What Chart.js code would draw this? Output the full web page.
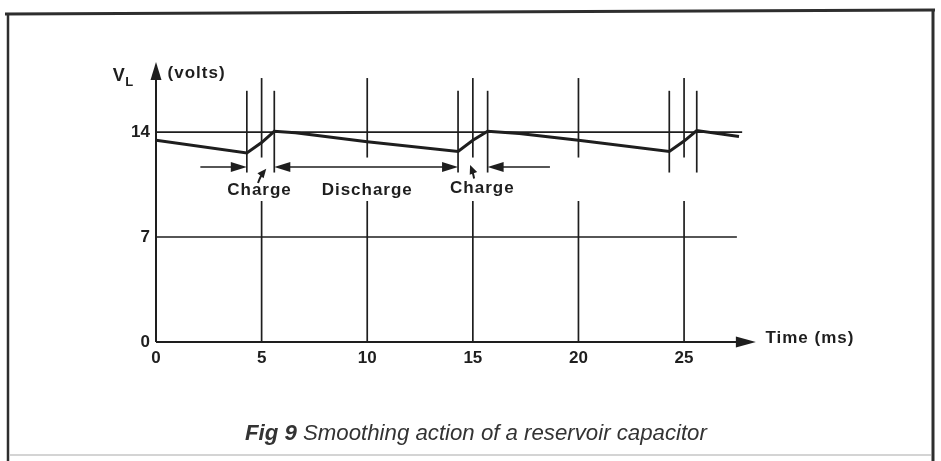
<!DOCTYPE html>
<html>
<head>
<meta charset="utf-8">
<script src="https://cdn.jsdelivr.net/npm/chart.js@4/dist/chart.umd.min.js"></script>
<style>
  html, body { margin: 0; background: #fff; }
  #wrap { width: 941px; height: 461px; }
</style>
</head>
<body>
<div id="wrap"><canvas id="chart" width="941" height="461"></canvas></div>
<script>
// waveform
const timeMs = [0, 4.3, 5.0, 5.6, 6.6, 10, 14.3, 15.0, 15.7, 17.2, 20, 24.3, 25.0, 25.6, 27.6];
const voltsL = [13.45, 12.6, 13.3, 14.05, 13.95, 13.35, 12.7, 13.45, 14.05, 13.9, 13.45, 12.7, 13.4, 14.1, 13.7];

const xTicks = [0, 5, 10, 15, 20, 25];
const yTicks = [0, 7, 14];
const gridLevels = [7, 14];
const gridEnds = [27.5, 27.75];
const markerTimes = [4.3, 5.6, 14.3, 15.7, 24.3, 25.6];

const ink = '#1e1e1e';
const face = '"Liberation Sans", Arial, sans-serif';

document.addEventListener('DOMContentLoaded', () => {
    const canvas = document.getElementById('chart');

    function arrowHead(ctx, x, y, dx, dy, len, half) {
        const n = Math.hypot(dx, dy);
        const ux = dx / n, uy = dy / n;
        ctx.beginPath();
        ctx.moveTo(x, y);
        ctx.lineTo(x - ux * len - uy * half, y - uy * len + ux * half);
        ctx.lineTo(x - ux * len + uy * half, y - uy * len - ux * half);
        ctx.closePath();
        ctx.fill();
    }

    function line(ctx, x1, y1, x2, y2) {
        ctx.beginPath();
        ctx.moveTo(x1, y1);
        ctx.lineTo(x2, y2);
        ctx.stroke();
    }

    const paper = {
        id: 'paper',
        beforeDraw(chart) {
            const ctx = chart.ctx;
            ctx.save();
            ctx.fillStyle = '#fff';
            ctx.fillRect(0, 0, chart.width, chart.height);
            // frame round the figure
            ctx.strokeStyle = '#2e2e2e';
            ctx.lineWidth = 3;
            line(ctx, 5, 14, 935, 10);
            ctx.lineWidth = 2.5;
            line(ctx, 8, 13, 8, 461);
            ctx.lineWidth = 3;
            line(ctx, 933, 10, 933, 461);
            ctx.strokeStyle = '#d4d4d4';
            ctx.lineWidth = 2;
            line(ctx, 10, 455, 931, 455);
            ctx.restore();
        },
        beforeDatasetsDraw(chart) {
            const ctx = chart.ctx;
            const xs = chart.scales.x, ys = chart.scales.y;
            const X = v => xs.getPixelForValue(v);
            const Y = v => ys.getPixelForValue(v);
            ctx.save();
            ctx.strokeStyle = ink;
            ctx.fillStyle = ink;
            ctx.lineWidth = 1.7;

            // horizontal levels
            gridLevels.forEach((v, i) => line(ctx, X(0), Y(v), X(gridEnds[i]), Y(v)));

            // vertical time lines with a gap for the labels
            xTicks.slice(1).forEach(t => {
                line(ctx, X(t), Y(17.6), X(t), Y(12.3));
                line(ctx, X(t), Y(9.4), X(t), Y(0));
            });

            // short markers at the charge start / end
            markerTimes.forEach(t => line(ctx, X(t), Y(16.75), X(t), Y(11.3)));

            // axes with arrows
            ctx.lineWidth = 2;
            line(ctx, X(0), Y(0), X(0), Y(18.0));
            arrowHead(ctx, X(0), Y(18.67), 0, -1, 18, 5.5);
            line(ctx, X(0), Y(0), X(27.8), Y(0));
            arrowHead(ctx, X(28.4), Y(0), 1, 0, 20, 5.5);

            // charge / discharge arrows
            ctx.lineWidth = 1.7;
            const ay = Y(11.67);
            line(ctx, X(2.1), ay, X(3.6), ay);
            arrowHead(ctx, X(4.3), ay, 1, 0, 16, 5);
            line(ctx, X(6.3), ay, X(13.6), ay);
            arrowHead(ctx, X(5.6), ay, -1, 0, 16, 5);
            arrowHead(ctx, X(14.3), ay, 1, 0, 16, 5);
            line(ctx, X(16.4), ay, X(18.65), ay);
            arrowHead(ctx, X(15.7), ay, -1, 0, 16, 5);

            // little pointers from the Charge labels
            ctx.lineWidth = 2;
            ctx.beginPath();
            ctx.moveTo(X(4.83), Y(10.6));
            ctx.quadraticCurveTo(X(4.95), Y(11.1), X(5.12), Y(11.35));
            ctx.stroke();
            arrowHead(ctx, X(5.22), Y(11.55), 1, -1.2, 9, 4);
            ctx.beginPath();
            ctx.moveTo(X(15.06), Y(10.9));
            ctx.quadraticCurveTo(X(15.0), Y(11.35), X(14.92), Y(11.55));
            ctx.stroke();
            arrowHead(ctx, X(14.87), Y(11.8), -0.4, -1, 9, 4);

            // texts
            ctx.textBaseline = 'middle';
            ctx.textAlign = 'center';
            ctx.font = `bold 17px ${face}`;
            ctx.letterSpacing = '1px';
            ctx.fillText('Charge', X(4.9), Y(10.1));
            ctx.fillText('Discharge', X(10.0), Y(10.1));
            ctx.fillText('Charge', X(15.45), Y(10.25));

            ctx.textAlign = 'left';
            ctx.fillText('Time (ms)', X(28.85), Y(0.25));
            ctx.fillText('(volts)', X(0.55), Y(17.9));
            ctx.letterSpacing = '0px';
            ctx.font = `bold 18px ${face}`;
            ctx.fillText('V', X(-2.05), Y(17.75));
            ctx.font = `bold 13px ${face}`;
            ctx.fillText('L', X(-1.45), Y(17.3));

            // caption
            const boldF = s => `italic bold ${s}px ${face}`;
            const plainF = s => `italic ${s}px ${face}`;
            const a = 'Fig 9', b = ' Smoothing action of a reservoir capacitor';
            ctx.font = boldF(19);
            let w = ctx.measureText(a).width;
            ctx.font = plainF(19);
            w += ctx.measureText(b).width;
            const size = 19 * 462 / w;
            ctx.fillStyle = '#333';
            ctx.font = boldF(size);
            ctx.fillText(a, 245, 434);
            const wa = ctx.measureText(a).width;
            ctx.font = plainF(size);
            ctx.fillText(b, 245 + wa, 434);
            ctx.restore();
        }
    };

    new Chart(canvas, {
        type: 'line',
        data: {
            datasets: [{
                data: timeMs.map((t, i) => ({ x: t, y: voltsL[i] })),
                borderColor: ink,
                borderWidth: 3,
                pointRadius: 0,
                tension: 0,
                fill: false
            }]
        },
        options: {
            responsive: false,
            animation: false,
            devicePixelRatio: 1,
            layout: { padding: { top: 62, right: 183, left: 0, bottom: 0 } },
            plugins: { legend: { display: false }, tooltip: { enabled: false } },
            scales: {
                x: {
                    type: 'linear', min: 0, max: 28.5,
                    grid: { display: false, drawTicks: false }, border: { display: false },
                    afterBuildTicks: s => { s.ticks = xTicks.map(v => ({ value: v })); },
                    afterFit: s => { s.height = 119; },
                    ticks: {
                        color: ink, padding: 6, maxRotation: 0, autoSkip: false,
                        font: { family: face, weight: 'bold', size: 17 }
                    }
                },
                y: {
                    type: 'linear', min: 0, max: 18.67,
                    grid: { display: false, drawTicks: false }, border: { display: false },
                    afterBuildTicks: s => { s.ticks = yTicks.map(v => ({ value: v })); },
                    afterFit: s => { s.width = 156; },
                    ticks: {
                        color: ink, padding: 6, autoSkip: false,
                        font: { family: face, weight: 'bold', size: 17 }
                    }
                }
            }
        },
        plugins: [paper]
    });
});
</script>
</body>
</html>
